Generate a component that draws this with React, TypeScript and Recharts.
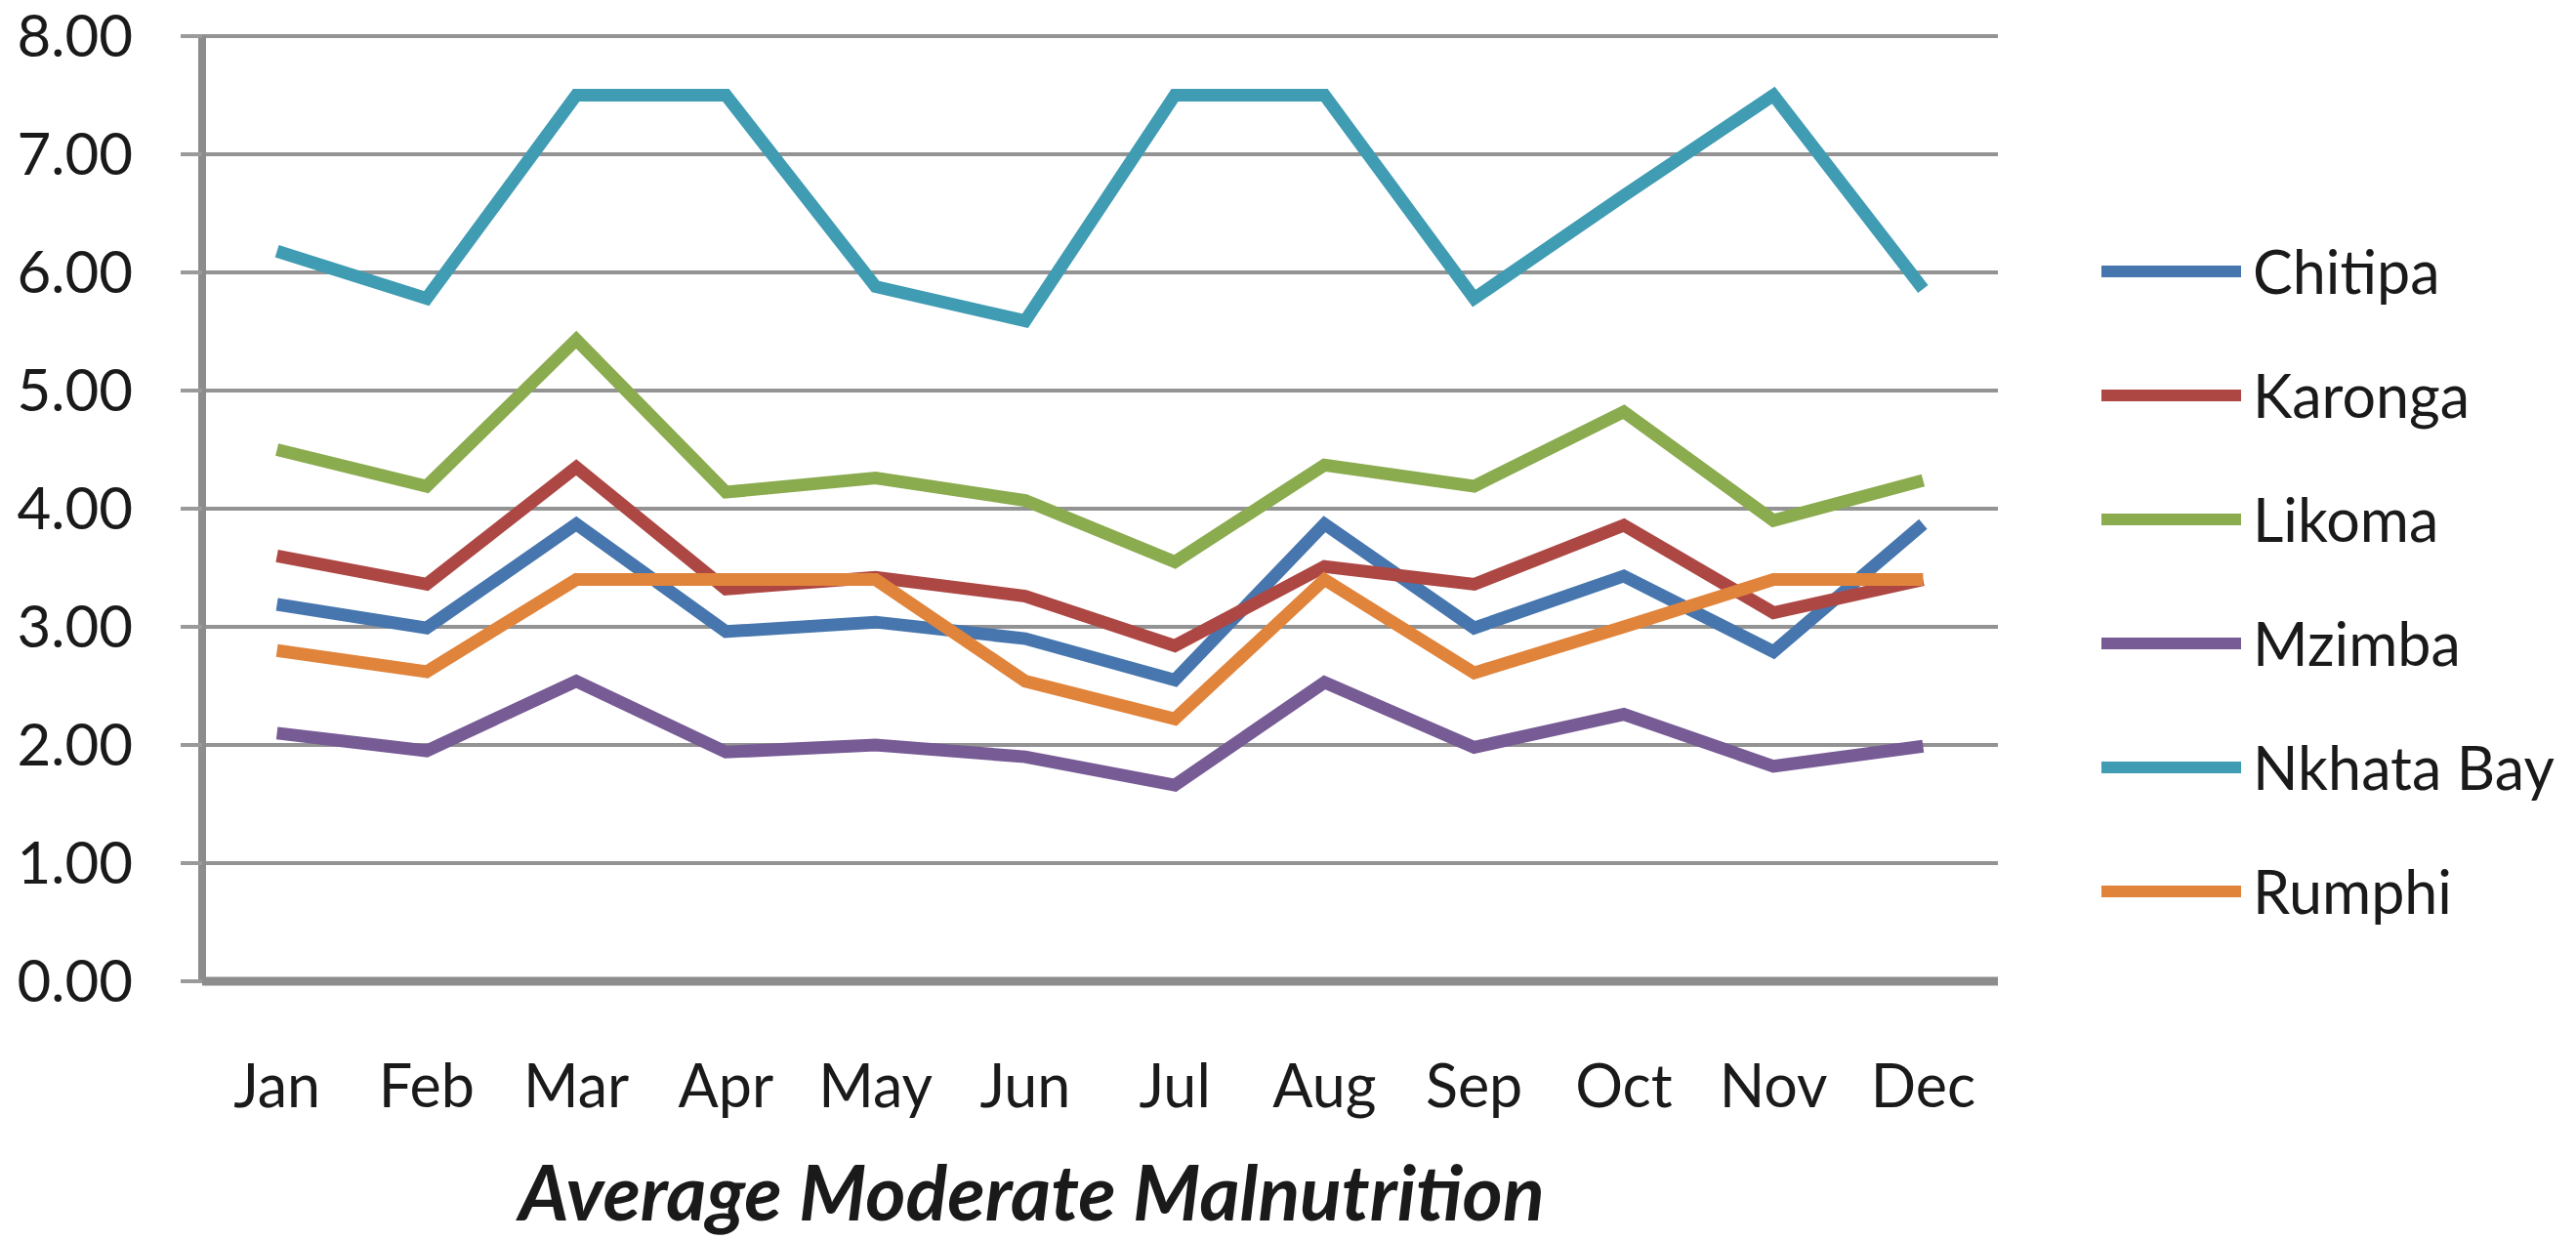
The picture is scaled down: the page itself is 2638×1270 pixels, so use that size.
import React from 'react';
import { LineChart, Line, XAxis, YAxis, CartesianGrid, Legend, Label } from 'recharts';

const months = ['Jan', 'Feb', 'Mar', 'Apr', 'May', 'Jun', 'Jul', 'Aug', 'Sep', 'Oct', 'Nov', 'Dec'];
const chitipa = [3.19, 2.99, 3.87, 2.96, 3.04, 2.9, 2.55, 3.87, 2.99, 3.43, 2.79, 3.87];
const karonga = [3.6, 3.36, 4.35, 3.32, 3.42, 3.26, 2.84, 3.51, 3.36, 3.86, 3.12, 3.4];
const likoma = [4.5, 4.19, 5.43, 4.14, 4.26, 4.07, 3.55, 4.37, 4.19, 4.82, 3.9, 4.24];
const mzimba = [2.1, 1.95, 2.54, 1.94, 2.0, 1.9, 1.66, 2.53, 1.98, 2.26, 1.82, 1.99];
const nkhataBay = [6.18, 5.78, 7.5, 7.5, 5.88, 5.59, 7.5, 7.5, 5.78, 6.65, 7.5, 5.86];
const rumphi = [2.8, 2.62, 3.4, 3.4, 3.4, 2.54, 2.22, 3.4, 2.61, 3.0, 3.4, 3.4];
const yTicks = [0, 1, 2, 3, 4, 5, 6, 7, 8];
const boundaryTicks = [0, 1, 2, 3, 4, 5, 6, 7, 8, 9, 10, 11, 12];
const title = 'Average Moderate Malnutrition';

const series = [
  { name: 'Chitipa', values: chitipa, color: '#4776ae' },
  { name: 'Karonga', values: karonga, color: '#ad4744' },
  { name: 'Likoma', values: likoma, color: '#8bab4f' },
  { name: 'Mzimba', values: mzimba, color: '#775b95' },
  { name: 'Nkhata Bay', values: nkhataBay, color: '#409cb3' },
  { name: 'Rumphi', values: rumphi, color: '#e1843b' },
];

const data = months.map((m, i) => {
  const row: Record<string, any> = { month: m };
  series.forEach((s) => {
    row[s.name] = s.values[i];
  });
  return row;
});

const FONT = 'Lato, "Open Sans", sans-serif';
const AXIS = '#8c8c8c';

const renderLegend = (props: any) => {
  const payload = props.payload || [];
  return (
    <div style={{ fontFamily: FONT }}>
      {payload.map((p: any) => (
        <div key={p.value} style={{ display: 'flex', alignItems: 'center', height: 127 }}>
          <div style={{ width: 143, height: 12, background: p.color, marginRight: 12 }} />
          <span style={{ fontSize: 61, color: '#1a1a1a', lineHeight: 1 }}>{p.value}</span>
        </div>
      ))}
    </div>
  );
};

export default function App() {
  return (
    <div style={{ position: 'absolute', left: 0, top: 0, width: 2638, height: 1270, background: '#fff', fontFamily: FONT }}>
      <LineChart width={2638} height={1270} data={data} margin={{ top: 37, right: 592, bottom: 0, left: 0 }}>
        <CartesianGrid horizontal={true} vertical={false} stroke="#939393" strokeWidth={4} />
        <XAxis
          type="number"
          domain={[0, 12]}
          ticks={boundaryTicks}
          allowDataOverflow
          height={0}
          tick={false}
          axisLine={false}
          tickLine={{ stroke: AXIS, strokeWidth: 5 }}
          tickSize={22}
        />
        <XAxis
          xAxisId="cat"
          dataKey="month"
          type="category"
          scale="band"
          height={265}
          interval={0}
          tickLine={false}
          tickSize={0}
          tickMargin={86}
          axisLine={{ stroke: AXIS, strokeWidth: 9 }}
          tick={{ fontSize: 61, fill: '#1a1a1a', fontFamily: FONT }}
        >
          <Label
            value={title}
            position="insideBottom"
            offset={20}
            dx={-70}
            style={{ fontSize: 79, fontWeight: 700, fontStyle: 'italic', fill: '#1a1a1a', fontFamily: FONT }}
          />
        </XAxis>
        <YAxis
          type="number"
          domain={[0, 8]}
          ticks={yTicks}
          width={207}
          tickFormatter={(v: number) => v.toFixed(2)}
          axisLine={{ stroke: AXIS, strokeWidth: 8 }}
          tickLine={{ stroke: '#9a9a9a', strokeWidth: 4 }}
          tickSize={22}
          tickMargin={49}
          tick={{ fontSize: 60, fill: '#1a1a1a', fontFamily: FONT }}
        />
        <Legend
          layout="vertical"
          align="center"
          verticalAlign="middle"
          content={renderLegend}
          wrapperStyle={{ left: 2152, top: 214, width: 486 }}
        />
        {series.map((s) => (
          <Line
            key={s.name}
            xAxisId="cat"
            type="linear"
            dataKey={s.name}
            name={s.name}
            stroke={s.color}
            strokeWidth={13}
            dot={false}
            activeDot={false}
            isAnimationActive={false}
          />
        ))}
      </LineChart>
    </div>
  );
}
